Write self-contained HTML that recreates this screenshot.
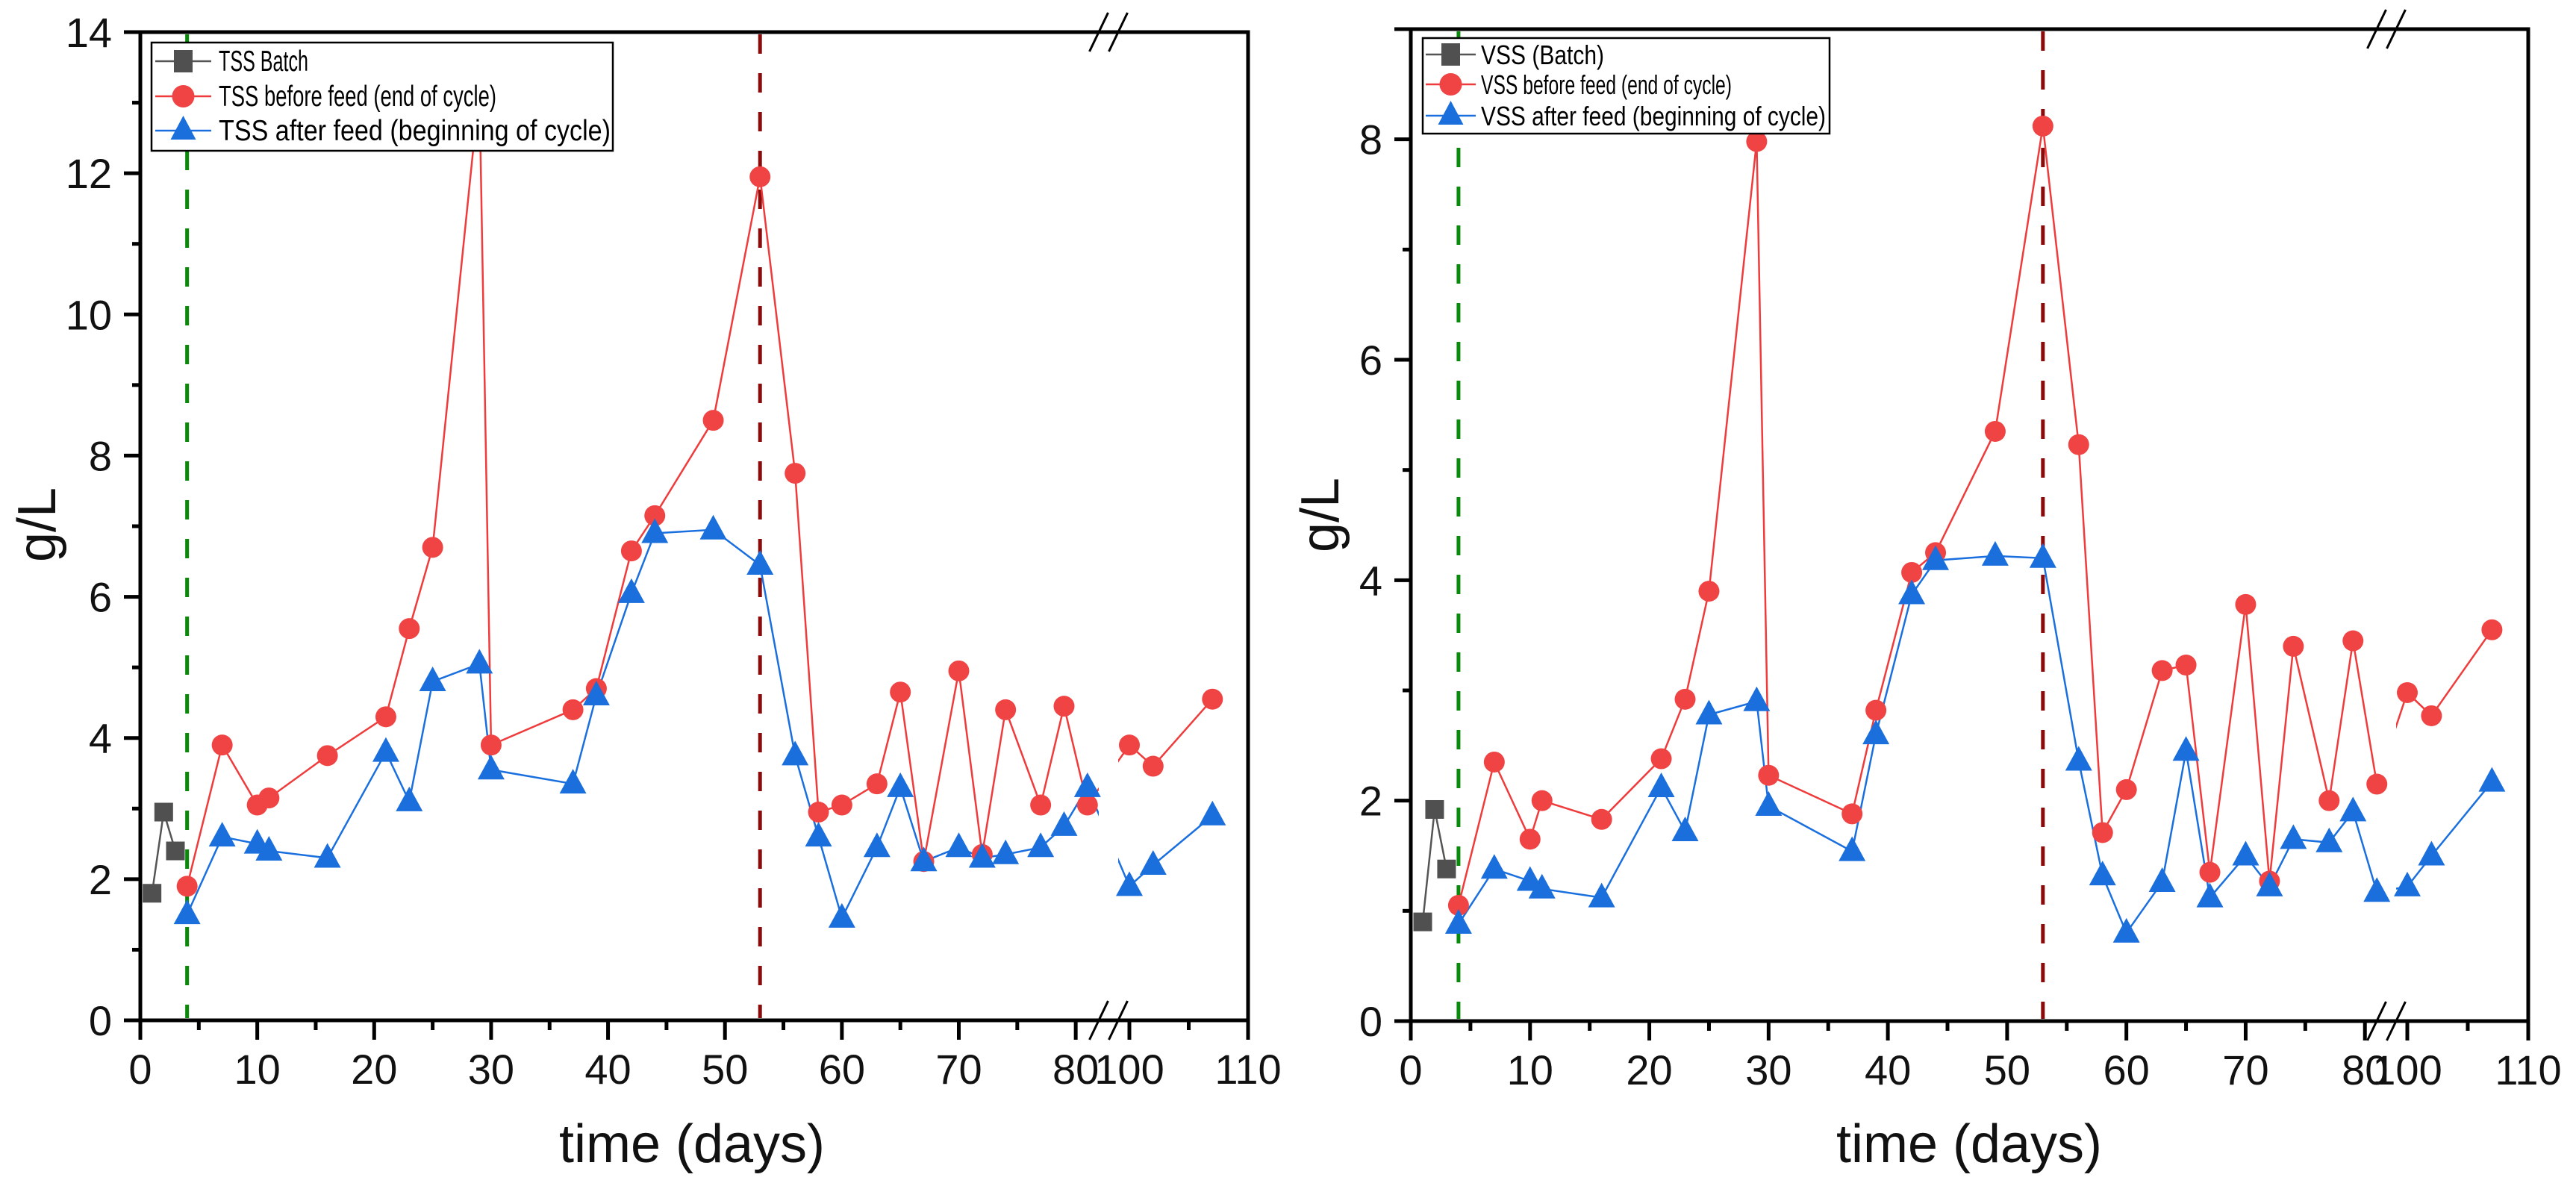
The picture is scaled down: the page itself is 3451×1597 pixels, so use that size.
<!DOCTYPE html>
<html><head><meta charset="utf-8"><style>
html,body{margin:0;padding:0;background:#fff;}
svg{display:block;font-family:"Liberation Sans",Arial,sans-serif;}
</style></head>
<body>
<svg id="chart" width="3451" height="1597" viewBox="0 0 3451 1597" xmlns="http://www.w3.org/2000/svg"></svg>
<script>
// ---- shared x data ----
const days = [4,7,10,11,16,21,23,25,29,30,37,39,42,44,49,53,56,58,60,63,65,67,70,72,74,77,79,81,100,102,107];
const batchDays = [1,2,3];
// ---- TSS ----
const tssBefore = [1.9,3.9,3.05,3.15,3.75,4.3,5.55,6.7,13.2,3.9,4.4,4.7,6.65,7.15,8.5,11.95,7.75,2.95,3.05,3.35,4.65,2.25,4.95,2.35,4.4,3.05,4.45,3.05,3.9,3.6,4.55];
const tssAfter = [1.5,2.6,2.5,2.4,2.3,3.8,3.1,4.8,5.05,3.55,3.35,4.6,6.05,6.9,6.95,6.45,3.75,2.6,1.45,2.45,3.3,2.25,2.45,2.3,2.35,2.45,2.75,3.3,1.9,2.2,2.9];
const tssBatch = [1.8,2.95,2.4];
// ---- VSS ----
const vssBefore = [1.05,2.35,1.65,2.0,1.83,2.38,2.92,3.9,7.98,2.23,1.88,2.82,4.07,4.25,5.35,8.12,5.23,1.71,2.1,3.18,3.23,1.35,3.78,1.27,3.4,2.0,3.45,2.15,2.98,2.77,3.55];
const vssAfter = [0.88,1.38,1.27,1.2,1.12,2.12,1.72,2.78,2.9,1.95,1.54,2.6,3.87,4.18,4.22,4.2,2.36,1.32,0.8,1.26,2.45,1.12,1.5,1.22,1.65,1.62,1.9,1.17,1.22,1.5,2.17];
const vssBatch = [0.9,1.92,1.38];
// ---- axes ----
const xTicks1 = [0,10,20,30,40,50,60,70,80];
const xTicks2 = [100,110];
const xMinor1 = [5,15,25,35,45,55,65,75];
const xMinor2 = [105];
const tssYTicks = [0,2,4,6,8,10,12,14];
const tssYMinor = [1,3,5,7,9,11,13];
const vssYTicks = [0,2,4,6,8];
const vssYMinor = [1,3,5,7];
const markerLines = [4,53];

const NS = "http://www.w3.org/2000/svg";
const svg = document.getElementById('chart');
function mk(tag, attrs, parent){
  const e = document.createElementNS(NS, tag);
  for (const k in attrs) e.setAttribute(k, attrs[k]);
  (parent||svg).appendChild(e);
  return e;
}

function panel(cfg){
  const g = mk('g', {});
  
  
  const {L,R,T,B,breakPx,s1max,s2min,x100,x110,yMax} = cfg;
  const k1 = (breakPx - L)/s1max;
  const k2 = (x110 - x100)/10;
  const X = d => d <= s1max + 0.001 ? L + d*k1 : x100 + (d-100)*k2;
  const Y = v => B - v*(B-T)/yMax;

  markerLines.forEach((d,i)=>{
    const ln = mk('line',{x1:X(d),x2:X(d),y1:T+3,y2:B-3,stroke:i===0?'#0a8a0a':'#8b0a0a','stroke-width':5,'stroke-dasharray':'26 26'},g);
    
    
  });

  function series(xs, vs, color, name){
    const pts = xs.map((d,i)=>X(d)+','+Y(vs[i])).join(' ');
    const pl = mk('polyline',{points:pts,fill:'none',stroke:color,'stroke-width':2.5},g);
    
    
  }
  series(batchDays, cfg.batch, '#555555', 'batch');
  series(days, cfg.before, '#ef3b3b', 'before-feed');
  series(days, cfg.after, '#1a6fdf', 'after-feed');
  const gap = mk('rect',{x:breakPx-13,y:T+4,width:26,height:B-T-8,fill:'#fff'},g);
  
  

  function square(x,y,c){ return mk('rect',{x:x-12.5,y:y-12.5,width:25,height:25,fill:c},g); }
  function circle(x,y,c){ return mk('circle',{cx:x,cy:y,r:14,fill:c},g); }
  function tri(x,y,c){ return mk('polygon',{points:`${x},${y-20} ${x+18},${y+13} ${x-18},${y+13}`,fill:c},g); }

  batchDays.forEach((d,i)=>{
    const m = square(X(d),Y(cfg.batch[i]),'#505050');
    
    
  });
  days.forEach((d,i)=>{
    const m = circle(X(d),Y(cfg.before[i]),'#f04343');
    
    
  });
  days.forEach((d,i)=>{
    const m = tri(X(d),Y(cfg.after[i]),'#1b6fdc');
    
    
  });

  const lg = mk('g',{},g);
  
  
  const LG = cfg.legend;
  mk('rect',{x:LG.x,y:LG.y,width:LG.w,height:LG.h,fill:'#fff',stroke:'#000','stroke-width':2.5},lg);
  const cols = ['#555555','#ef3b3b','#1a6fdf'];
  const mcols = ['#505050','#f04343','#1b6fdc'];
  LG.rows.forEach((ry,i)=>{
    const ent = mk('g',{},lg);
    
    
    mk('line',{x1:LG.lx1,x2:LG.lx2,y1:ry,y2:ry,stroke:cols[i],'stroke-width':2.5},ent);
    const mx = (LG.lx1+LG.lx2)/2;
    if(i===0) mk('rect',{x:mx-12.5,y:ry-15,width:25,height:30,fill:mcols[0]},ent);
    if(i===1) mk('circle',{cx:mx,cy:ry,r:15,fill:mcols[1]},ent);
    if(i===2) mk('polygon',{points:`${mx},${ry-20} ${mx+17},${ry+12} ${mx-17},${ry+12}`,fill:mcols[2]},ent);
    const t = mk('text',{x:LG.tx,y:ry+13,'font-size':LG.fs,fill:'#000',textLength:LG.tl[i],lengthAdjust:'spacingAndGlyphs'},ent);
    t.textContent = LG.labels[i];
  });

  const ax = mk('g',{stroke:'#000','stroke-width':5,fill:'none'},g);
  
  
  mk('line',{x1:L-22,x2:R+2.5,y1:B,y2:B},ax);
  mk('line',{x1:L-22,x2:R+2.5,y1:T,y2:T},ax);
  mk('line',{x1:L,x2:L,y1:T-2.5,y2:B+26},ax);
  mk('line',{x1:R,x2:R,y1:T-2.5,y2:B+26},ax);
  const xt = mk('g',{},g);
  
  
  xTicks1.concat(xTicks2).forEach(d=>{
    mk('line',{x1:X(d),x2:X(d),y1:B,y2:B+26,stroke:'#000','stroke-width':5},xt);
    const t = mk('text',{x:X(d),y:B+85,'font-size':56,'text-anchor':'middle',fill:'#111'},xt);
    t.textContent = d;
  });
  xMinor1.concat(xMinor2).forEach(d=>{
    mk('line',{x1:X(d),x2:X(d),y1:B,y2:B+13,stroke:'#000','stroke-width':5},xt);
  });
  const yt = mk('g',{},g);
  
  
  cfg.yTicks.forEach(v=>{
    mk('line',{x1:L-22,x2:L,y1:Y(v),y2:Y(v),stroke:'#000','stroke-width':5},yt);
    const t = mk('text',{x:L-38,y:Y(v)+20,'font-size':56,'text-anchor':'end',fill:'#111'},yt);
    t.textContent = v;
  });
  cfg.yMinor.forEach(v=>{
    mk('line',{x1:L-11,x2:L,y1:Y(v),y2:Y(v),stroke:'#000','stroke-width':5},yt);
  });
  [T,B].forEach(yy=>{
    [breakPx-13,breakPx+13].forEach(xx=>{
      const s = mk('line',{x1:xx-12.5,y1:yy+26,x2:xx+12.5,y2:yy-26,stroke:'#000','stroke-width':3},g);
      
      
    });
  });
  const xtl = mk('text',{x:cfg.xTitleX,y:1557,'font-size':72,'text-anchor':'middle',fill:'#111'},g);
  xtl.textContent = 'time (days)';
  
  
  const ytl = mk('text',{x:0,y:0,'font-size':72,'text-anchor':'middle',fill:'#111',transform:`translate(${cfg.yTitleX},${cfg.yTitleY}) rotate(-90)`},g);
  ytl.textContent = 'g/L';
  
  
}

panel({name:'tss-panel',L:188,R:1672,T:43,B:1367,breakPx:1485,s1max:82.8,s2min:98.2,x100:1513,x110:1672,yMax:14,
  before:tssBefore,after:tssAfter,batch:tssBatch,yTicks:tssYTicks,yMinor:tssYMinor,
  xTitleX:927,yTitleX:74,yTitleY:703,
  legend:{x:203,y:57,w:618,h:145,rows:[82,129,175],lx1:208,lx2:283,tx:293,fs:39,
    tl:[120,372,525],labels:['TSS Batch','TSS before feed (end of cycle)','TSS after feed (beginning of cycle)']}});
panel({name:'vss-panel',L:1890,R:3387,T:39,B:1368,breakPx:3197,s1max:81.8,s2min:98.3,x100:3225,x110:3387,yMax:9,
  before:vssBefore,after:vssAfter,batch:vssBatch,yTicks:vssYTicks,yMinor:vssYMinor,
  xTitleX:2638,yTitleX:1793,yTitleY:690,
  legend:{x:1906,y:51,w:545,h:128,rows:[73,113,155],lx1:1910,lx2:1977,tx:1984,fs:36,
    tl:[165,336,462],labels:['VSS (Batch)','VSS before feed (end of cycle)','VSS after feed (beginning of cycle)']}});
</script>
</body></html>
